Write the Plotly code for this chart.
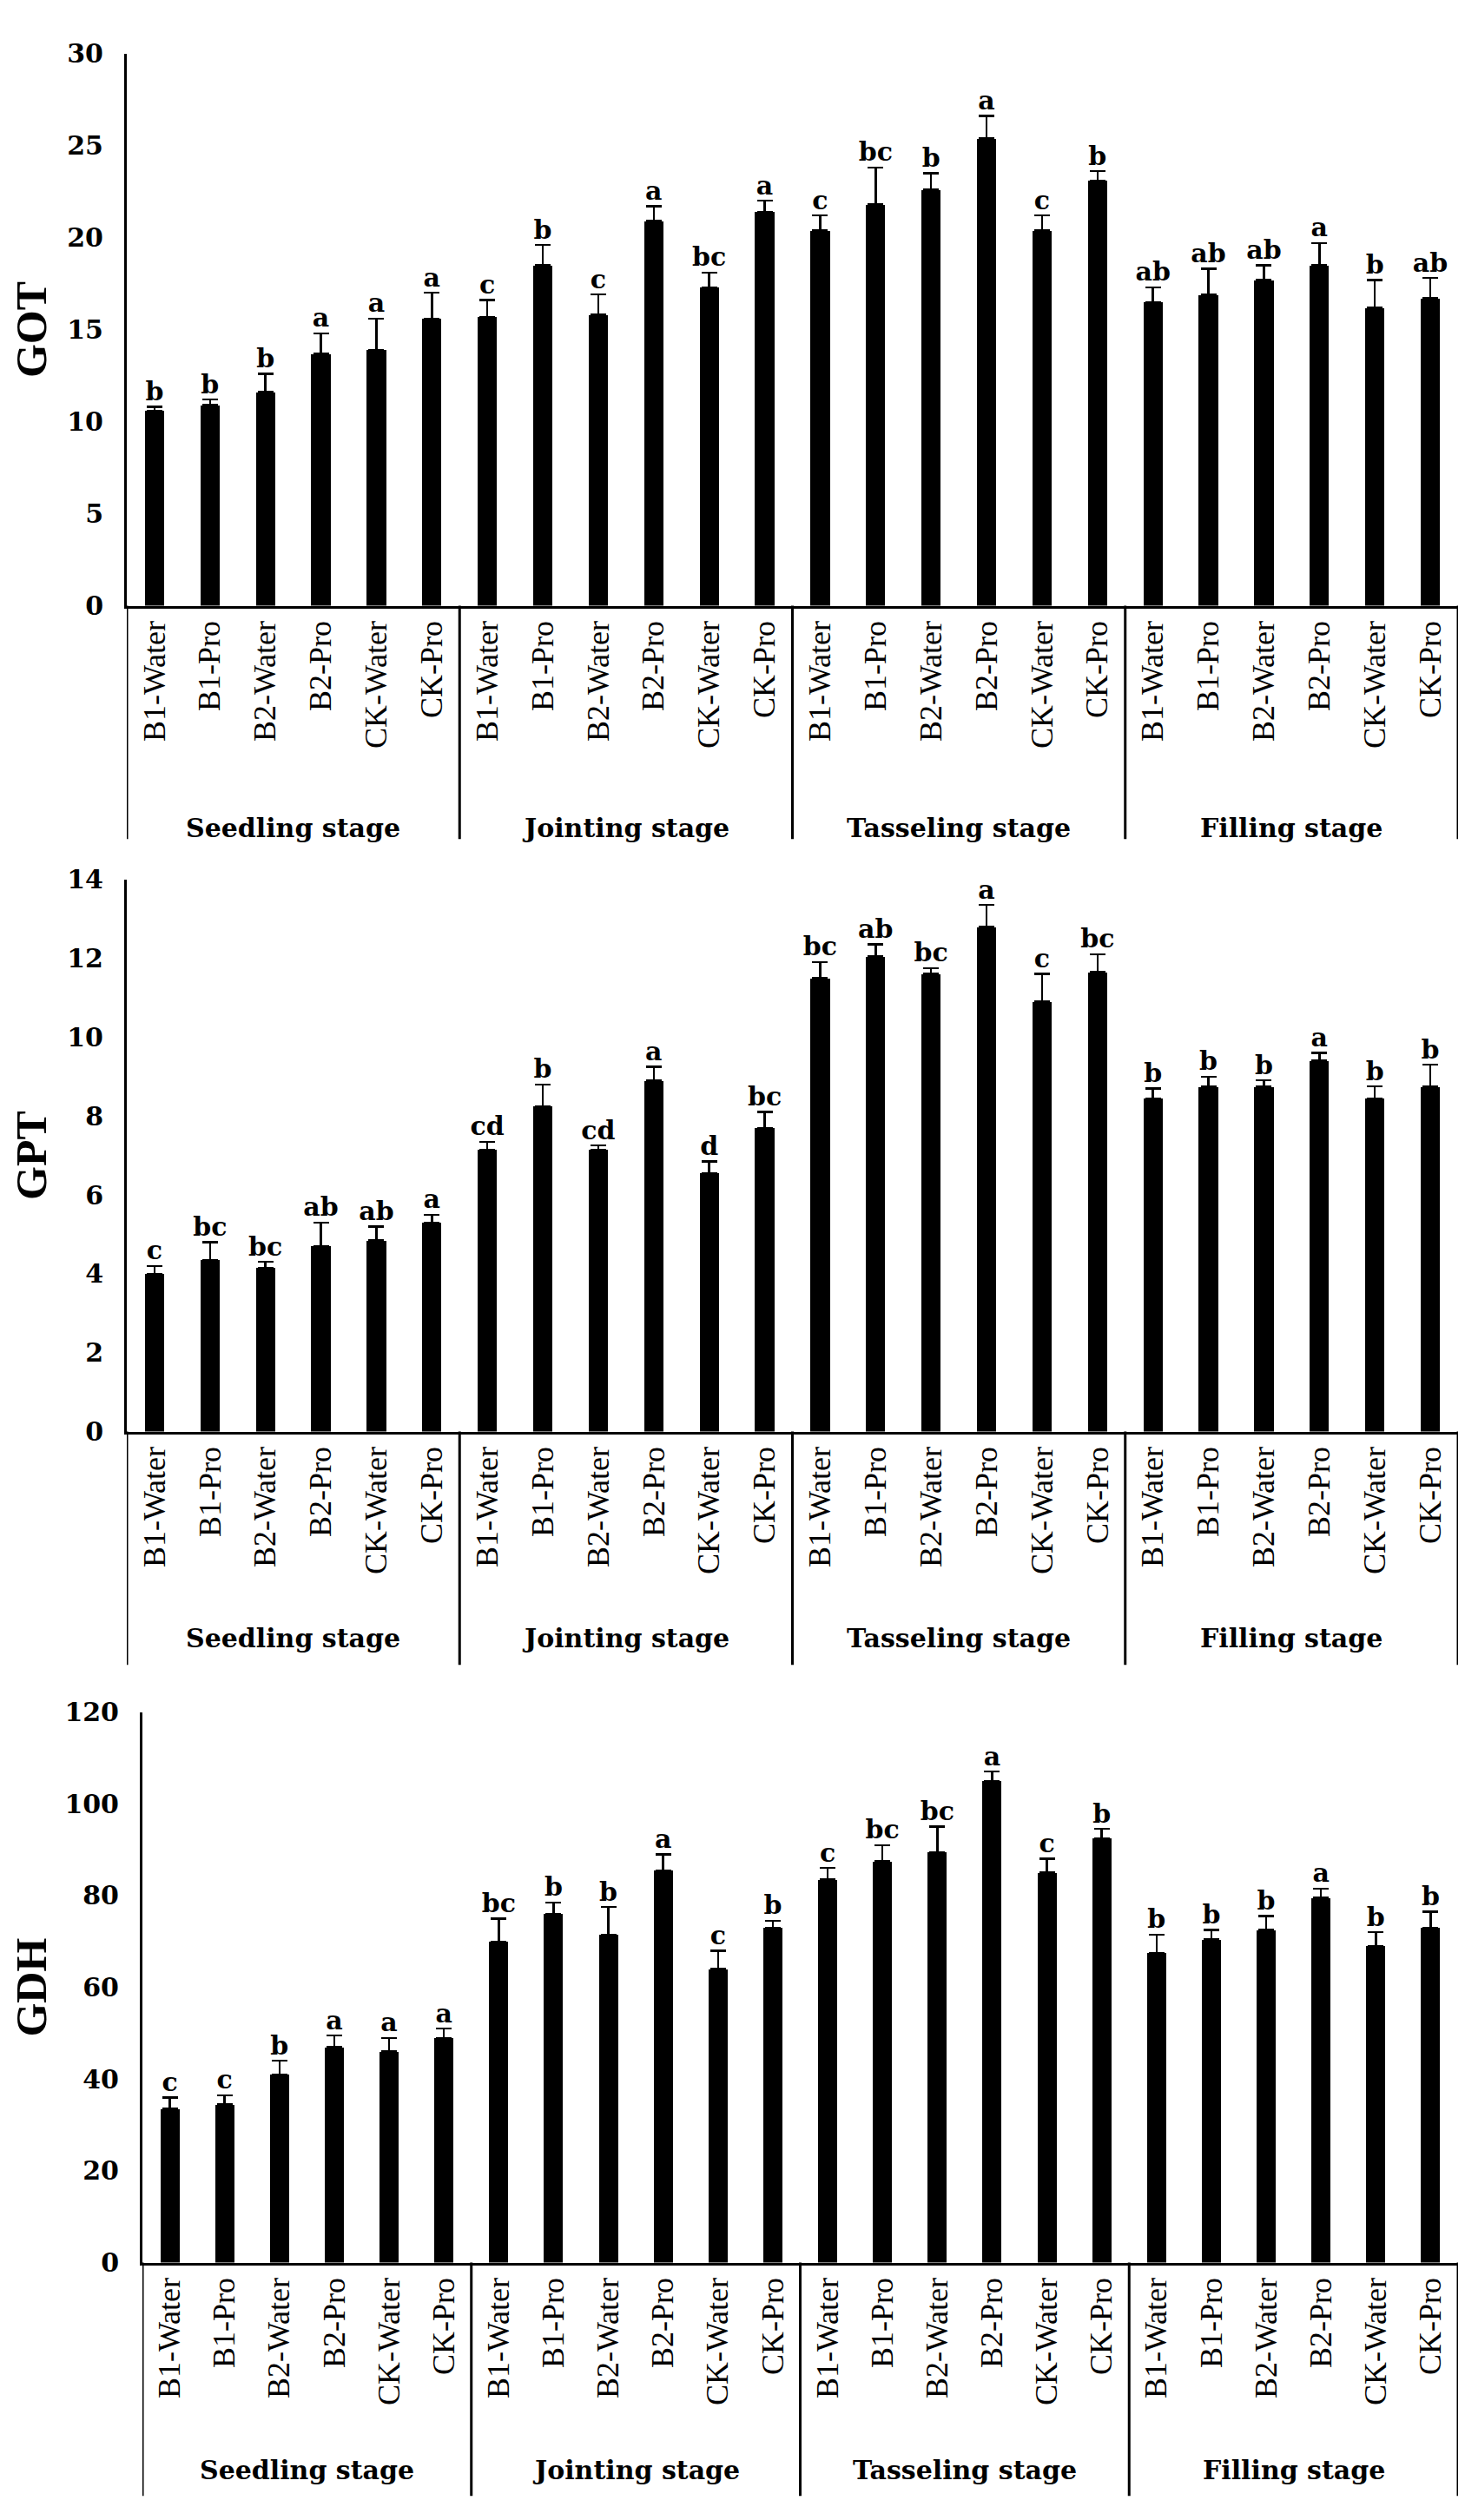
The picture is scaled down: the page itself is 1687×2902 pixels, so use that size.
import plotly.graph_objects as go

treatments = ["B1-Water", "B1-Pro", "B2-Water", "B2-Pro", "CK-Water", "CK-Pro"]
stages = ["Seedling stage", "Jointing stage", "Tasseling stage", "Filling stage"]

got_vals = [10.6, 10.9, 11.6, 13.7, 13.9, 15.6, 15.7, 18.5, 15.8, 20.9, 17.3, 21.4,
            20.4, 21.8, 22.6, 25.4, 20.4, 23.1, 16.5, 16.9, 17.7, 18.5, 16.2, 16.7]
got_err = [0.2, 0.3, 1.0, 1.1, 1.7, 1.4, 0.9, 1.1, 1.1, 0.8, 0.8, 0.6,
           0.8, 2.0, 0.9, 1.2, 0.8, 0.5, 0.8, 1.4, 0.8, 1.2, 1.5, 1.1]
got_let = ["b", "b", "b", "a", "a", "a", "c", "b", "c", "a", "bc", "a",
           "c", "bc", "b", "a", "c", "b", "ab", "ab", "ab", "a", "b", "ab"]

gpt_vals = [4.0, 4.35, 4.15, 4.7, 4.85, 5.3, 7.15, 8.25, 7.15, 8.9, 6.55, 7.7,
            11.5, 12.05, 11.6, 12.8, 10.9, 11.65, 8.45, 8.75, 8.75, 9.4, 8.45, 8.75]
gpt_err = [0.2, 0.45, 0.15, 0.6, 0.35, 0.2, 0.2, 0.55, 0.1, 0.35, 0.3, 0.4,
           0.4, 0.3, 0.15, 0.55, 0.7, 0.45, 0.25, 0.25, 0.15, 0.2, 0.3, 0.55]
gpt_let = ["c", "bc", "bc", "ab", "ab", "a", "cd", "b", "cd", "a", "d", "bc",
           "bc", "ab", "bc", "a", "c", "bc", "b", "b", "b", "a", "b", "b"]

gdh_vals = [33.5, 34.5, 41, 47, 46, 49, 70, 76, 71.5, 85.5, 64, 73,
            83.5, 87.5, 89.5, 105, 85, 92.5, 67.5, 70.5, 72.5, 79.5, 69, 73]
gdh_err = [2.5, 2, 3, 2.5, 3, 2, 5, 2.5, 6, 3.5, 4, 1.5,
           2.5, 3.5, 5.5, 2, 3, 2, 4, 2, 3, 2, 3, 3.5]
gdh_let = ["c", "c", "b", "a", "a", "a", "bc", "b", "b", "a", "c", "b",
           "c", "bc", "bc", "a", "c", "b", "b", "b", "b", "a", "b", "b"]

H, W = 2902, 1687
panels = [
    dict(name="GOT", vals=got_vals, err=got_err, let=got_let, ymax=30, dtick=5,
         top=36, zero=680, bottom=952, label=939, left=138),
    dict(name="GPT", vals=gpt_vals, err=gpt_err, let=gpt_let, ymax=14, dtick=2,
         top=999, zero=1643, bottom=1915, label=1884, left=138),
    dict(name="GDH", vals=gdh_vals, err=gdh_err, let=gdh_let, ymax=120, dtick=20,
         top=1970, zero=2612, bottom=2884, label=2854, left=156),
]
right = 1671

fig = go.Figure()
xs = list(range(24))
ticktext = treatments * 4
shapes, annotations = [], []
for i, p in enumerate(panels, start=1):
    xa = "x" if i == 1 else f"x{i}"
    ya = "y" if i == 1 else f"y{i}"
    fig.add_trace(go.Bar(x=xs, y=p["vals"], width=0.35, marker=dict(color="black", line=dict(width=0)),
                         error_y=dict(type="data", array=p["err"], arrayminus=[0] * 24, symmetric=False,
                                      color="black", thickness=2.4, width=9),
                         xaxis=xa, yaxis=ya, showlegend=False))
    fig.add_trace(go.Scatter(x=xs, y=[v + e for v, e in zip(p["vals"], p["err"])], mode="text",
                             text=p["let"], textposition="top center",
                             textfont=dict(family="DejaVu Serif", size=30, color="black", weight="bold"),
                             xaxis=xa, yaxis=ya, showlegend=False, cliponaxis=False))
    xd = [p["left"] / W, right / W]
    yd = [1 - p["zero"] / H, 1 - p["top"] / H]
    key = "" if i == 1 else str(i)
    fig.update_layout(**{
        f"xaxis{key}": dict(domain=xd, anchor=ya, range=[-0.5, 23.5], tickmode="array", tickvals=xs,
                            ticktext=ticktext, tickangle=-90, showline=True, linecolor="black", linewidth=3,
                            ticks="", showgrid=False, zeroline=False,
                            tickfont=dict(family="Liberation Serif", size=36, color="black")),
        f"yaxis{key}": dict(domain=yd, anchor=xa, range=[0, p["ymax"]], dtick=p["dtick"], showline=True,
                            linecolor="black", linewidth=3, ticks="", showgrid=False, zeroline=False,
                            ticklabelstandoff=18,
                            tickfont=dict(family="DejaVu Serif", size=30, color="black", weight="bold"),
                            title=dict(text=p["name"], standoff=24,
                                       font=dict(family="Liberation Serif", size=50, color="black", weight="bold"))),
    })
    y0 = 1 - p["zero"] / H
    y1 = 1 - p["bottom"] / H
    for sx in [-0.5, 5.5, 11.5, 17.5, 23.5]:
        shapes.append(dict(type="line", xref=xa, yref="paper", x0=sx, x1=sx, y0=y0, y1=y1,
                           line=dict(color="black", width=3)))
    for j, s in enumerate(stages):
        annotations.append(dict(text=s, xref=xa, yref="paper", x=2.5 + 6 * j, y=1 - p["label"] / H,
                                showarrow=False, yanchor="middle",
                                font=dict(family="DejaVu Serif", size=30, color="black", weight="bold")))

fig.update_layout(width=W, height=H, margin=dict(l=0, r=0, t=0, b=0), plot_bgcolor="white",
                  paper_bgcolor="white", shapes=shapes, annotations=annotations, bargap=0)
fig.write_html("out.html")
